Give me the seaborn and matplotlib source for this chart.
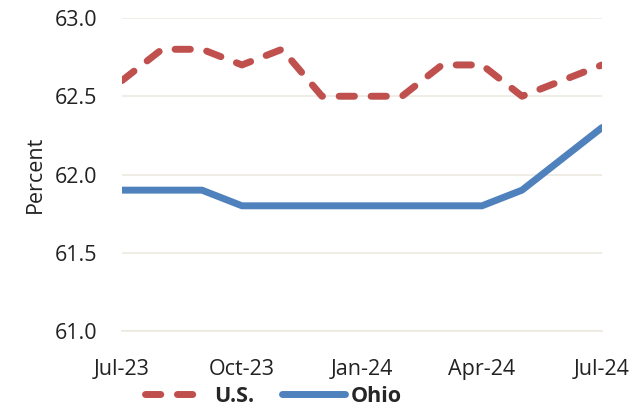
import pandas as pd
import matplotlib
matplotlib.use("Agg")
import matplotlib.pyplot as plt
import seaborn as sns
from matplotlib.lines import Line2D

# Data (monthly, Jul-23 .. Jul-24)
months = ["Jul-23", "Aug-23", "Sep-23", "Oct-23", "Nov-23", "Dec-23", "Jan-24",
          "Feb-24", "Mar-24", "Apr-24", "May-24", "Jun-24", "Jul-24"]
us = [62.6, 62.8, 62.8, 62.7, 62.8, 62.5, 62.5, 62.5, 62.7, 62.7, 62.5, 62.6, 62.7]
ohio = [61.9, 61.9, 61.9, 61.8, 61.8, 61.8, 61.8, 61.8, 61.8, 61.8, 61.9, 62.1, 62.3]
series_names = ["U.S.", "Ohio"]
tick_labels = ["Jul-23", "Oct-23", "Jan-24", "Apr-24", "Jul-24"]
y_ticks = [61.0, 61.5, 62.0, 62.5, 63.0]

df = pd.DataFrame({
    "idx": list(range(len(months))) * 2,
    "month": months * 2,
    "value": us + ohio,
    "series": [series_names[0]] * len(us) + [series_names[1]] * len(ohio),
})

sns.set_style("white")
plt.rcParams["font.family"] = ["Open Sans", "DejaVu Sans"]

fig = plt.figure(figsize=(6.44, 4.08), dpi=100)
ax = fig.add_axes([0.1894, 0.1887, 0.7454, 0.7672])

palette = {"U.S.": "#C0504D", "Ohio": "#4F81BD"}
lw = 5.0
us_dash = (2.2, 2.4)
sns.lineplot(data=df, x="idx", y="value", hue="series", style="series",
             palette=palette, dashes={"U.S.": us_dash, "Ohio": ""},
             linewidth=lw, ax=ax, legend=False)
for ln in ax.get_lines():
    ln.set_solid_capstyle("round")
    ln.set_dash_capstyle("round")
    ln.set_solid_joinstyle("round")
    ln.set_dash_joinstyle("round")

ax.set_xlim(0, len(months) - 1)
ax.set_ylim(61.0, 63.0)
ax.set_yticks(y_ticks)
ax.set_yticklabels([f"{v:.1f}" for v in y_ticks])
ax.set_xticks([months.index(m) for m in tick_labels])
ax.set_xticklabels(tick_labels)
ax.set_xticks(range(len(months)), minor=True)

grid_c = "#EDE9E1"
ax.grid(axis="y", color=grid_c, linewidth=1.2)
ax.set_axisbelow(True)
for s in ["top", "right", "left"]:
    ax.spines[s].set_visible(False)
ax.spines["bottom"].set_color(grid_c)
ax.spines["bottom"].set_linewidth(1.2)

fs = 15.5
ax.tick_params(axis="y", length=0, labelsize=fs, colors="#222222", pad=18)
ax.tick_params(axis="x", which="both", direction="inout", length=8,
               color=grid_c, width=1.2, labelsize=fs, labelcolor="#222222", pad=16)
ax.set_xlabel("")
ax.set_ylabel("Percent", fontsize=fs, color="#222222", labelpad=6)

# legend
handles = [Line2D([], [], color=palette["U.S."], lw=lw, dashes=us_dash,
                  dash_capstyle="round"),
           Line2D([], [], color=palette["Ohio"], lw=lw, solid_capstyle="round")]
fig.legend(handles, series_names, loc="lower center", ncol=2, frameon=False,
           bbox_to_anchor=(0.425, -0.045), handlelength=2.9, columnspacing=1.3,
           handletextpad=0.3, prop={"weight": "bold", "size": fs})

fig.savefig("out.png", dpi=100)
